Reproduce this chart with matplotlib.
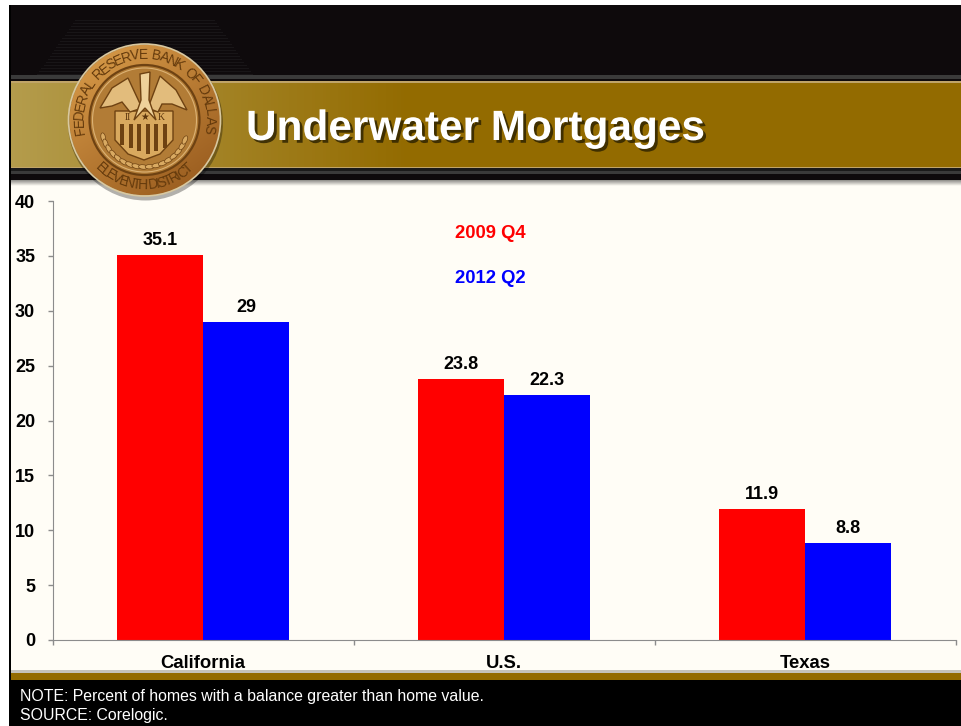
import numpy as np
import matplotlib
matplotlib.use('Agg')
import matplotlib.pyplot as plt
import matplotlib.patheffects as pe
from matplotlib.patches import Circle, Ellipse, Polygon, Rectangle
from matplotlib.textpath import TextPath

# chart values
categories = ['California', 'U.S.', 'Texas']
q4_2009 = [35.1, 23.8, 11.9]
q2_2012 = [29, 22.3, 8.8]
q4_labels = ['35.1', '23.8', '11.9']
q2_labels = ['29', '22.3', '8.8']
yticks = [0, 5, 10, 15, 20, 25, 30, 35, 40]

plt.rcParams['font.family'] = ['Liberation Sans', 'DejaVu Sans']

W, H = 961, 726
fig = plt.figure(figsize=(W/100., H/100.), dpi=100, facecolor='white')

# background layer, works in picture pixels
bg = fig.add_axes([0, 0, 1, 1])
bg.axis('off')

def box(x0, y0, x1, y1, col, z=1):
    bg.add_patch(Rectangle((x0, y0), x1-x0, y1-y0, fc=col, ec='none', zorder=z))

def picture(img, x0, x1, y0, y1, z, **kw):
    bg.imshow(img, extent=(x0, x1, y1, y0), aspect='auto', zorder=z, **kw)

box(9, 5, W, H, '#000000')
box(11, 5, W, 82, '#0e0a0c')
box(11, 180, W, 678, '#fffdf6')

# faint stripes in the dark header
for yy in range(20, 75, 3):
    half = 70 + (yy-20)*0.7
    box(145-half, yy, 145+half, yy+1, '#181517', 2)
box(11, 75, W, 79, '#3a3a3a', 2)
box(11, 79, W, 81, '#0e0a0c', 2)

# gold band with lighter left side
grad = np.linspace(0, 1, 256).reshape(1, -1)
c0 = np.array([0xb4, 0x9c, 0x4c])/255.
c1 = np.array([0x93, 0x6b, 0x00])/255.
t = np.clip(grad/0.42, 0, 1)[..., None]
picture(c0*(1-t)+c1*t, 11, W, 82, 168, 2)
box(11, 81, W, 82.5, '#c0a468', 3)
box(11, 166.5, W, 168, '#c0a468', 3)
box(11, 168, W, 171, '#1a1a1a', 3)
box(11, 171, W, 174, '#3a3a3a', 3)
box(11, 174, W, 180, '#0e0a0c', 3)

# soft shadow under the header
fade = np.zeros((32, 1, 4))
fade[..., 3] = np.linspace(0.45, 0, 32).reshape(-1, 1)
picture(fade, 11, W, 180, 186, 3)

# bottom strip
box(11, 670, W, 674, '#c4c2ba', 3)
box(11, 673, W, 680, '#936b00', 3)
box(9, 680, W, H, '#000000', 3)

# seal
cx, cy, R = 144.5, 120, 76
bg.add_patch(Circle((cx+1, cy+3), R+1.5, fc='#000000', alpha=0.3, ec='none', zorder=4))
yy, xx = np.mgrid[-1:1:300j, -1:1:300j]
seal = np.zeros((300, 300, 4))
shine = np.clip(0.5+0.5*(-xx*0.5-yy*0.7), 0, 1)
dark = np.array([0.60, 0.36, 0.12])
light = np.array([0.84, 0.60, 0.28])
seal[..., :3] = dark[None, None]*(1-shine[..., None])+light[None, None]*shine[..., None]
seal[..., 3] = (xx**2+yy**2 <= 1)*1.0
picture(seal, cx-R, cx+R, cy-R, cy+R, 5, interpolation='bilinear')
bg.add_patch(Circle((cx, cy), R, fc='none', ec='#d8c8a0', lw=1.2, zorder=6))
bg.add_patch(Circle((cx, cy), 55, fc='#b27c36', ec='#6e4212', lw=1.6, zorder=6))
bg.add_patch(Circle((cx, cy), 52, fc='none', ec='#dcb274', lw=0.8, zorder=6))

def arc_text(s, a0, a1, r, top=True):
    # letters spaced by their real widths
    widths = [TextPath((0, 0), ch, size=10).get_extents().width if ch != ' ' else 3. for ch in s]
    widths = np.array(widths)+0.9
    edges = np.concatenate([[0], np.cumsum(widths)])/widths.sum()
    for i, ch in enumerate(s):
        a = np.radians(a0 + (a1-a0)*(edges[i]+edges[i+1])/2.)
        x = cx + r*np.cos(a)
        y = cy - r*np.sin(a)
        rot = np.degrees(a)-90 if top else np.degrees(a)+90
        bg.text(x, y, ch, fontsize=10, color='#643a0c', rotation=rot, ha='center',
                va='center', zorder=7, rotation_mode='anchor')

arc_text('FEDERAL RESERVE BANK OF DALLAS', 192, -12, 65)
arc_text('ELEVENTH DISTRICT', 225, 315, 65, top=False)

# eagle and shield
gold_d = '#6e4212'
gold_l = '#e2bc7c'
for a in np.arange(196, 345, 9):
    ar = np.radians(a)
    bg.add_patch(Ellipse((cx+43*np.cos(ar), cy+6-41*np.sin(ar)), 9, 4.5, angle=-a+95,
                         fc='#d9aa62', ec=gold_d, lw=0.5, zorder=7))
bg.add_patch(Polygon([(115, 111), (173, 111), (173, 140), (160, 154), (144, 160), (128, 154), (115, 140)],
                     fc='#d9a95e', ec=gold_d, lw=1, zorder=8))
for sx in np.arange(120, 171, 8.5):
    bg.add_patch(Rectangle((sx, 124), 4.2, 30 - abs(sx-146)*0.35, fc=gold_d, ec='none', zorder=9))
bg.add_patch(Polygon([(142, 108), (128, 78), (112, 88), (100, 108), (112, 106), (122, 102), (130, 112)],
                     fc=gold_l, ec=gold_d, lw=1, zorder=9))
bg.add_patch(Polygon([(148, 108), (160, 76), (176, 90), (187, 110), (172, 104), (162, 104), (158, 112)],
                     fc=gold_l, ec=gold_d, lw=1, zorder=9))
bg.add_patch(Polygon([(140, 74), (150, 72), (149, 100), (156, 120), (145, 108), (134, 120), (141, 100)],
                     fc='#efd29a', ec=gold_d, lw=1, zorder=10))
bg.text(128, 117, 'II', fontsize=7, color='#5a340c', ha='center', va='center',
        family=['Liberation Serif'], zorder=11)
bg.text(161, 117, 'K', fontsize=7, color='#5a340c', ha='center', va='center',
        family=['Liberation Serif'], zorder=11)
bg.text(144.5, 117, '\u2605', fontsize=7, color='#5a340c', ha='center', va='center',
        family=['DejaVu Sans'], zorder=11)

# title
bg.text(246, 129, 'Underwater Mortgages', fontsize=30.5, fontweight='bold', color='white',
        ha='left', va='center', zorder=12,
        path_effects=[pe.withSimplePatchShadow(offset=(2, -2), shadow_rgbFace='#2a2000', alpha=0.8)])

# footnotes
bg.text(20, 696.5, 'NOTE: Percent of homes with a balance greater than home value.',
        fontsize=11.4, color='white', ha='left', va='center', zorder=12)
bg.text(20, 715.5, 'SOURCE: Corelogic.', fontsize=11.4, color='white', ha='left', va='center', zorder=12)

bg.set_xlim(0, W)
bg.set_ylim(H, 0)

# the chart itself
left, right, top, bottom = 52.5, 955.5, 201., 640.
ax = fig.add_axes([left/W, 1-bottom/H, (right-left)/W, (bottom-top)/H], facecolor='none')
x = np.arange(len(categories))
width = 0.2857
ax.bar(x-width/2, q4_2009, width, color='#ff0000', linewidth=0)
ax.bar(x+width/2, q2_2012, width, color='#0000ff', linewidth=0)
for i in range(len(categories)):
    ax.text(x[i]-width/2, q4_2009[i]+0.55, q4_labels[i], ha='center', va='bottom',
            fontsize=13, fontweight='bold', color='black')
    ax.text(x[i]+width/2, q2_2012[i]+0.55, q2_labels[i], ha='center', va='bottom',
            fontsize=13, fontweight='bold', color='black')
ax.set_xlim(-0.5, 2.5)
ax.set_ylim(0, 40)
ax.set_yticks(yticks)
ax.set_xticks([-0.5, 0.5, 1.5, 2.5])
ax.set_xticklabels([])
ax.set_xticks(x, minor=True)
ax.set_xticklabels(categories, minor=True, fontsize=13.3, fontweight='bold')
ax.tick_params(axis='x', which='minor', length=0, pad=11)
ax.tick_params(axis='x', which='major', direction='out', length=3.5, width=1, color='#8c8c8c')
ax.tick_params(axis='y', length=3.5, width=1, color='#8c8c8c', pad=9)
for lab in ax.get_yticklabels():
    lab.set_fontsize(13)
    lab.set_fontweight('bold')
ax.spines['top'].set_visible(False)
ax.spines['right'].set_visible(False)
ax.spines['left'].set_color('#8c8c8c')
ax.spines['bottom'].set_color('#8c8c8c')

# hand placed key
fig.text(490.5/W, 1-234/H, '2009 Q4', color='#ff0000', fontsize=13.3, fontweight='bold', ha='center', va='center')
fig.text(490.5/W, 1-279/H, '2012 Q2', color='#0000ff', fontsize=13.3, fontweight='bold', ha='center', va='center')

fig.savefig('out.png', dpi=100)
